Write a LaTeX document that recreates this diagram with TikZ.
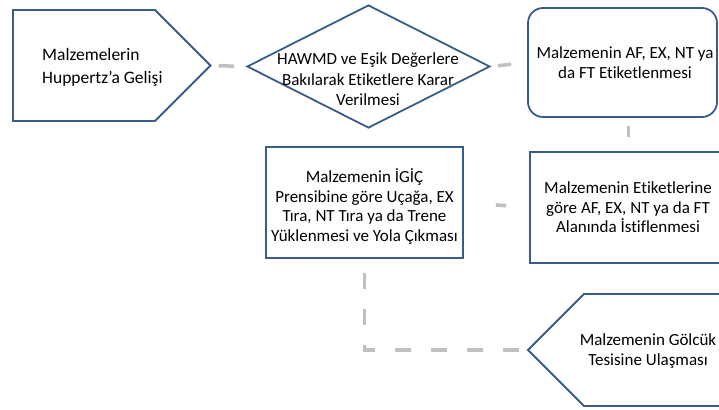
\documentclass[tikz,border=0pt]{standalone}
\usepackage{fontspec}
\setmainfont{Carlito}[Ligatures={NoCommon}]
\usetikzlibrary{shapes.geometric}

\definecolor{edge}{HTML}{385D8A}
\definecolor{link}{HTML}{C0C0C0}

\tikzset{
  outline/.style={draw=edge, line width=1.8pt, fill=white, inner sep=0pt},
  label/.style={font=\fontsize{17}{19.5}\selectfont, align=center, inner sep=0pt, text=black},
  conn/.style={draw=link, line width=3.5pt},
}

\begin{document}
\begin{tikzpicture}[x=1pt, y=-1pt]
  \useasboundingbox (0,0) rectangle (719,409);
  \clip (0,0) rectangle (719,409);

  % arrow-shaped start box, pointing right
  \draw[outline] (13,10) -- (155,10) -- (210.5,65.5) coordinate (arriveTip)
    -- (155,121) -- (13,121) -- cycle;
  % decision diamond
  \node[outline, diamond, minimum width=243pt, minimum height=123pt] (decide) at (368.5,66.5) {};
  % rounded process box
  \node[outline, rectangle, rounded corners=15pt,
        minimum width=189pt, minimum height=109pt] (tagging) at (622.5,62.5) {};
  % plain process boxes
  \node[outline, rectangle, minimum width=197pt, minimum height=111pt] (stack) at (628.5,207.5) {};
  \node[outline, rectangle, minimum width=197pt, minimum height=111pt] (load) at (364.5,202.5) {};
  % arrow-shaped box, pointing left
  \draw[outline] (528,350) coordinate (reachTip) -- (584,294) -- (740,294)
    -- (740,406) -- (584,406) -- cycle;

  % texts
  \node[label, align=left, anchor=west, font=\fontsize{17.5}{23}\selectfont] (tArrive) at (42,67.5)
    {Malzemelerin\\Huppertz’a Gelişi};
  \node[label, font=\fontsize{17}{20.5}\selectfont] (tDecide) at (368,79.5)
    {HAWMD ve Eşik Değerlere\\Bakılarak Etiketlere Karar\\Verilmesi};
  \node[label] (tTagging) at (625,62.5)
    {Malzemenin AF, EX, NT ya\\da FT Etiketlenmesi};
  \node[label] (tStack) at (628,207.5)
    {Malzemenin Etiketlerine\\göre AF, EX, NT ya da FT\\Alanında İstiflenmesi};
  \node[label] (tLoad) at (364.5,206.5)
    {Malzemenin İGİÇ\\Prensibine göre Uçağa, EX\\Tıra, NT Tıra ya da Trene\\Yüklenmesi ve Yola Çıkması};
  \node[label] (tReach) at (648,351)
    {Malzemenin Gölcük\\Tesisine Ulaşması};

  % connectors
  \draw[conn, shorten <=8pt, shorten >=12pt] (arriveTip) -- (decide.west);
  \draw[conn, shorten <=7pt, shorten >=16pt] (decide.east) -- (tagging.west);
  \draw[conn, shorten <=14pt, shorten >=8pt] (stack.north) -- (stack.north |- tagging.south);
  \draw[conn, shorten <=32pt, shorten >=23pt] (load.east) -- (stack.west);
  \draw[conn, dash pattern=on 16pt off 20pt, dash phase=22pt]
    (load.south) -- (load.south |- reachTip) -- (reachTip);
\end{tikzpicture}
\end{document}
